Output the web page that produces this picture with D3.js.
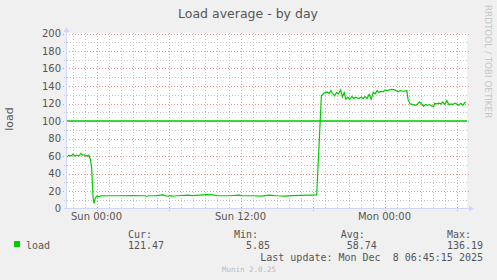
<!DOCTYPE html>
<html>
<head>
<meta charset="utf-8">
<script src="https://cdn.jsdelivr.net/npm/d3@7"></script>
<style>
  body { margin: 0; background: #f0f0f0; }
  svg { display: block; }
</style>
</head>
<body>
<svg id="chart"></svg>
<script>
// Chart size
const width = 497;
const height = 280;

// Data: hours relative to Sun 00:00, load values
const loadHours = [
  -2.45, -2.3, -2.14, -1.97, -1.8, -1.64, -1.47, -1.3, -1.14, -0.97, -0.8, -0.64,
  -0.51, -0.41, -0.28, -0.2, -0.1, 0.03, 0.19, 0.36,
  1, 2, 3, 4, 4.17, 4.4, 5, 5.5, 5.9, 6.2, 6.4, 6.7, 7.6, 8, 9.2, 9.7, 10, 11, 11.9, 12.2,
  13, 13.8, 14.4, 15, 15.7, 16.2, 17, 17.9, 18.35,
  18.74, 18.84, 19.03, 19.22, 19.39, 19.53, 19.67, 19.84, 20.0, 20.17, 20.34, 20.5, 20.64,
  20.78, 20.94, 21.11, 21.28, 21.44, 21.61, 21.84, 22.05, 22.22, 22.39, 22.55, 22.72,
  22.89, 23.05, 23.22, 23.39, 23.55, 23.72, 23.89, 24.05, 24.22, 24.4, 24.59, 24.86,
  25.14, 25.3, 25.59, 25.86, 25.97, 26.14, 26.36, 26.59, 26.75, 26.92, 27.09, 27.25,
  27.42, 27.59, 27.75, 27.92, 28.09, 28.19, 28.36, 28.53, 28.69, 28.86, 29.03, 29.19,
  29.36, 29.53, 29.69, 29.86, 30.03, 30.19, 30.36, 30.53, 30.69, 30.8
];
const loadValues = [
  59, 61, 60, 62, 60, 61, 60, 63, 61, 61, 60, 61,
  56, 47, 12, 5.85, 12, 14, 13.5, 14.5,
  14.6, 14.6, 14.7, 14.6, 14.0, 14.6, 14.7, 15.5, 14.0, 14.6, 14.0, 14.6, 15.3, 14.7, 15.8, 15.6, 14.7, 14.6, 15.3, 14.6,
  14.6, 14.2, 15.2, 14.6, 14.2, 14.7, 15.0, 15.3, 15.5,
  129, 130.3, 132.5, 133.3, 131.4, 134.8, 131.4, 128.7, 132.5, 131, 135.5, 127.6, 132.5,
  124.9, 127.2, 124.9, 128, 125.7, 127.2, 125.7, 127.2, 125.7, 128, 125.7, 130.3,
  124.9, 132.5, 131, 134.8, 132.5, 134, 133.3, 135.5, 134.8, 135.5, 136.19, 135.5,
  133.3, 134.8, 134, 134.8, 124.1, 119.5, 118.8, 118, 119.5, 121.8, 119.5, 116.6,
  118.8, 118, 118.8, 117.3, 116.6, 120.3, 119.5, 120.3, 119.5, 121.8, 118.8, 123.3,
  118.8, 119.5, 118.8, 120.3, 119.5, 118, 120.3, 118, 121.1, 121.47
];
const warningLevel = 100;

// Legend
const seriesName = "load";
const statLabels = ["Cur:", "Min:", "Avg:", "Max:"];
const statValues = ["121.47", "  5.85", " 58.74", "136.19"];
const lastUpdate = "Last update: Mon Dec  8 06:45:15 2025";

const lineColor = "#00cc00";
const textColor = "#555";
const baseTime = Date.UTC(2025, 11, 7, 0, 0, 0);
const hour = 3600 * 1000;

const data = loadHours.map((h, i) => ({ t: new Date(baseTime + h * hour), v: loadValues[i] }));

const svg = d3.select("#chart")
    .attr("width", width)
    .attr("height", height)
    .style("font-family", "'DejaVu Sans', sans-serif");

svg.append("rect").attr("width", width).attr("height", height).attr("fill", "#f0f0f0");

// Scales
const x = d3.scaleUtc()
    .domain([new Date(baseTime - 2.5 * hour), new Date(baseTime + (33.333 - 2.5) * hour)])
    .range([66.5, 466.5]);
const y = d3.scaleLinear()
    .domain([0, 200])
    .range([208.5, 33.5]);

// Plot background
svg.append("rect")
    .attr("x", 67).attr("y", 33)
    .attr("width", 400).attr("height", 175)
    .attr("fill", "#ffffff");

const grid = svg.append("g");
const minorColor = "#c4c4c4";
const majorColor = "#ec9696";

// Minor grid
const minorX = x.ticks(d3.utcHour.every(1));
grid.selectAll(".vminor")
    .data(minorX.filter(d => d.getUTCHours() % 6 !== 0))
    .enter().append("line")
    .attr("x1", d => Math.round(x(d)) + 0.5).attr("x2", d => Math.round(x(d)) + 0.5)
    .attr("y1", 33).attr("y2", 210)
    .attr("stroke", minorColor).attr("stroke-dasharray", "1,2");

const minorY = d3.range(10, 201, 20);
grid.selectAll(".hminor")
    .data(minorY)
    .enter().append("line")
    .attr("x1", 64).attr("x2", 469)
    .attr("y1", d => Math.round(y(d)) + 0.5).attr("y2", d => Math.round(y(d)) + 0.5)
    .attr("stroke", minorColor).attr("stroke-dasharray", "1,2");

// Major grid
const majorX = x.ticks(d3.utcHour.every(6));
grid.selectAll(".vmajor")
    .data(majorX)
    .enter().append("line")
    .attr("x1", d => Math.round(x(d)) + 0.5).attr("x2", d => Math.round(x(d)) + 0.5)
    .attr("y1", 33).attr("y2", 211)
    .attr("stroke", majorColor).attr("stroke-dasharray", "1,2");

const majorY = d3.range(20, 201, 20);
grid.selectAll(".hmajor")
    .data(majorY)
    .enter().append("line")
    .attr("x1", 63).attr("x2", 469)
    .attr("y1", d => Math.round(y(d)) + 0.5).attr("y2", d => Math.round(y(d)) + 0.5)
    .attr("stroke", majorColor).attr("stroke-dasharray", "1,2");

// Axes
const axisColor = "#cfd6f8";
svg.append("line").attr("x1", 66.5).attr("x2", 66.5).attr("y1", 31).attr("y2", 209)
    .attr("stroke", axisColor);
svg.append("line").attr("x1", 64).attr("x2", 469).attr("y1", 208.5).attr("y2", 208.5)
    .attr("stroke", axisColor);
svg.append("path").attr("d", "M63.5,32 L66.5,27 L69.5,32 Z").attr("fill", axisColor);
svg.append("path").attr("d", "M469,205.5 L474,208.5 L469,211.5 Z").attr("fill", axisColor);

// Y tick labels
svg.selectAll(".ylabel")
    .data(d3.range(0, 201, 20))
    .enter().append("text")
    .attr("x", 61)
    .attr("y", d => y(d))
    .attr("dy", "0.35em")
    .attr("text-anchor", "end")
    .attr("font-size", "10px")
    .attr("fill", textColor)
    .text(d => d);

// X tick labels
svg.selectAll(".xlabel")
    .data(x.ticks(d3.utcHour.every(12)))
    .enter().append("text")
    .attr("x", d => x(d))
    .attr("y", 216)
    .attr("dy", "0.35em")
    .attr("text-anchor", "middle")
    .attr("font-size", "10px")
    .attr("fill", textColor)
    .text(d => d3.utcFormat("%a %H:%M")(d));

// Warning line at 100
svg.append("line")
    .attr("x1", 67).attr("x2", 467)
    .attr("y1", y(warningLevel)).attr("y2", y(warningLevel))
    .attr("stroke", lineColor).attr("stroke-width", 1.6);

// Load line
svg.append("path")
    .datum(data)
    .attr("fill", "none")
    .attr("stroke", lineColor)
    .attr("stroke-width", 1.2)
    .attr("d", d3.line().x(d => x(d.t)).y(d => y(d.v)));

// Title
svg.append("text")
    .attr("x", 248).attr("y", 14)
    .attr("dy", "0.35em")
    .attr("text-anchor", "middle")
    .attr("font-size", "12.5px")
    .attr("fill", textColor)
    .text("Load average - by day");

// Y axis label
svg.append("text")
    .attr("transform", "translate(9,119) rotate(-90)")
    .attr("dy", "0.35em")
    .attr("text-anchor", "middle")
    .attr("font-size", "11px")
    .attr("fill", textColor)
    .text("load");

// Watermark
svg.append("text")
    .attr("transform", "translate(488,5) rotate(90)")
    .attr("dy", "0.35em")
    .attr("font-size", "8.8px")
    .attr("fill", "#c8c8c8")
    .text("RRDTOOL / TOBI OETIKER");

// Legend
const mono = "'DejaVu Sans Mono', monospace";
svg.append("rect")
    .attr("x", 14).attr("y", 241)
    .attr("width", 6).attr("height", 6)
    .attr("fill", lineColor);
svg.append("text")
    .attr("x", 26).attr("y", 245).attr("dy", "0.35em")
    .attr("font-family", mono).attr("font-size", "10px").attr("fill", textColor)
    .text(seriesName);

const statX = [128, 234, 340.7, 447];
svg.selectAll(".stathead")
    .data(statLabels)
    .enter().append("text")
    .attr("x", (d, i) => statX[i]).attr("y", 234).attr("dy", "0.35em")
    .attr("font-family", mono).attr("font-size", "10px").attr("fill", textColor)
    .style("white-space", "pre")
    .text(d => d);
svg.selectAll(".statval")
    .data(statValues)
    .enter().append("text")
    .attr("x", (d, i) => statX[i]).attr("y", 245).attr("dy", "0.35em")
    .attr("font-family", mono).attr("font-size", "10px").attr("fill", textColor)
    .style("white-space", "pre")
    .text(d => d);

svg.append("text")
    .attr("x", 483).attr("y", 257).attr("dy", "0.35em")
    .attr("text-anchor", "end")
    .attr("font-family", mono).attr("font-size", "10px").attr("fill", textColor)
    .style("white-space", "pre")
    .text(lastUpdate);

svg.append("text")
    .attr("x", 249).attr("y", 269).attr("dy", "0.35em")
    .attr("text-anchor", "middle")
    .attr("font-family", mono).attr("font-size", "7.5px").attr("fill", "#bbb")
    .text("Munin 2.0.25");
</script>
</body>
</html>
